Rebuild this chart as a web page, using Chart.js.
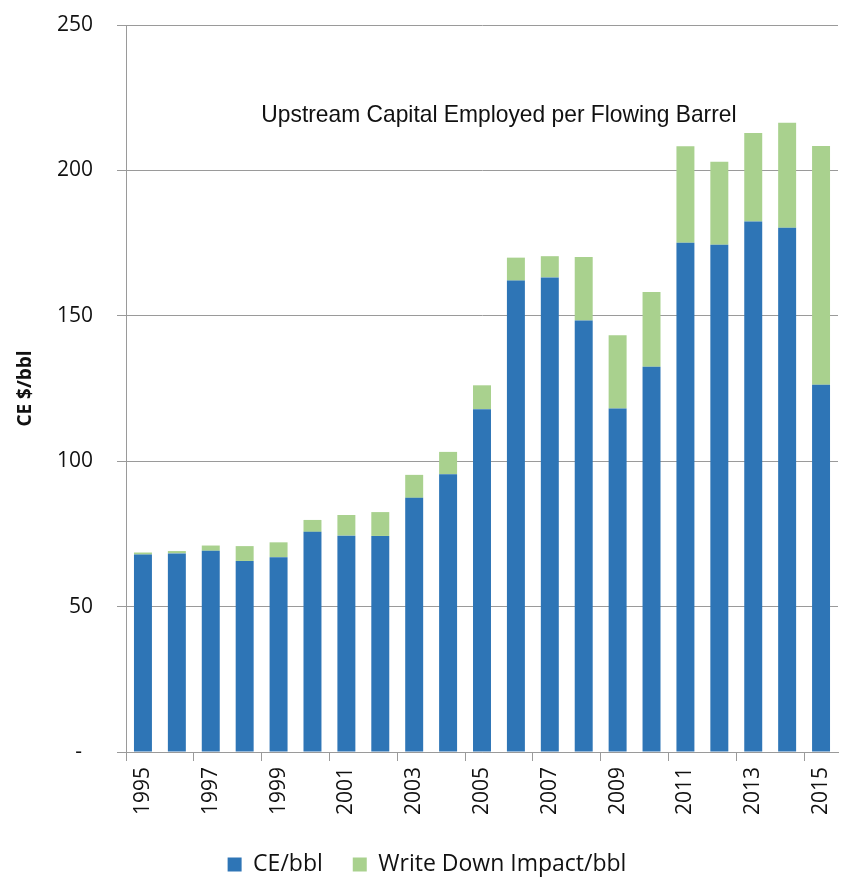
<!DOCTYPE html>
<html>
<head>
<meta charset="utf-8">
<script src="https://cdn.jsdelivr.net/npm/chart.js@4/dist/chart.umd.min.js"></script>
<style>
    html, body { margin: 0; padding: 0; background: #fff; }
    #wrap { width: 841px; height: 877px; }
</style>
</head>
<body>
<div id="wrap"><canvas id="graph1" width="841" height="877"></canvas></div>
<script>
const years = ["1995", "1996", "1997", "1998", "1999", "2000", "2001", "2002", "2003", "2004",
    "2005", "2006", "2007", "2008", "2009", "2010", "2011", "2012", "2013", "2014", "2015"]

// capital employed per barrel
const ceValues = [67.9, 68.3, 69.2, 65.7, 67.0, 75.7, 74.4, 74.3, 87.4, 95.5,
    117.9, 162.1, 163.2, 148.4, 118.1, 132.5, 175.1, 174.4, 182.4, 180.3, 126.3]

// extra from write downs, stacked on top
const writeDownValues = [0.7, 0.8, 1.8, 5.1, 5.1, 4.1, 7.1, 8.2, 7.9, 7.7,
    8.2, 7.9, 7.3, 21.8, 25.2, 25.7, 33.2, 28.6, 30.5, 36.1, 82.1]

const yTicks = [0, 50, 100, 150, 200, 250]

const seriesNames = ["CE/bbl", "Write Down Impact/bbl"]
const chartTitle = "Upstream Capital Employed per Flowing Barrel"

const axisGray = "#9a9a9a"
const labelFont = "'Open Sans', 'Noto Sans', sans-serif"

// title sits inside the plot, squeezed a bit like a narrow face
const titleInside = {
    id: "titleInside",
    afterDraw: (chart) => {
        const ctx = chart.ctx
        const x = chart.scales.x.getPixelForValue(10.5)
        const y = chart.scales.y.getPixelForValue(216.7)
        ctx.save()
        ctx.font = "24px 'Liberation Sans', Arial, sans-serif"
        ctx.fillStyle = "#111"
        ctx.textAlign = "center"
        ctx.textBaseline = "alphabetic"
        ctx.translate(x, y)
        ctx.scale(0.95, 1)
        ctx.fillText(chartTitle, 0, 0)
        ctx.restore()
    },
}

const config1 = {
    type: "bar",
    data: {
        labels: years,
        datasets: [
            {
                label: seriesNames[0],
                data: ceValues,
                backgroundColor: "#2e75b6",
                barPercentage: 0.53,
                categoryPercentage: 1,
            },
            {
                label: seriesNames[1],
                data: writeDownValues,
                backgroundColor: "#a9d18e",
                barPercentage: 0.53,
                categoryPercentage: 1,
            },
        ],
    },
    options: {
        responsive: false,
        animation: false,
        layout: {
            padding: { top: 25, right: 3, left: 16, bottom: -9 },
        },
        plugins: {
            legend: {
                position: "bottom",
                labels: {
                    boxWidth: 14,
                    boxHeight: 14,
                    padding: 30,
                    color: "#111",
                    font: { family: labelFont, size: 23 },
                },
            },
            title: { display: false },
            tooltip: { enabled: false },
        },
        scales: {
            x: {
                stacked: true,
                offset: true,
                afterFit: (scale) => {
                    scale.height = 71
                    scale.paddingLeft = 0
                    scale.paddingRight = 0
                },
                border: { display: true, color: axisGray },
                grid: {
                    offset: true,
                    drawOnChartArea: false,
                    drawTicks: true,
                    tickLength: 9,
                    tickColor: (ctx) => (ctx.index % 2 === 0 ? axisGray : "rgba(0,0,0,0)"),
                },
                ticks: {
                    autoSkip: false,
                    minRotation: 90,
                    maxRotation: 90,
                    padding: 6,
                    color: "#111",
                    font: { family: labelFont, size: 21 },
                    callback: (value, index) => (index % 2 === 0 ? years[index] : ""),
                },
            },
            y: {
                stacked: true,
                min: yTicks[0],
                max: yTicks[yTicks.length - 1],
                afterFit: (scale) => {
                    scale.width = 110
                    scale.paddingTop = 0
                    scale.paddingBottom = 0
                },
                afterBuildTicks: (scale) => {
                    scale.ticks = yTicks.map((v) => ({ value: v }))
                },
                border: { display: true, color: axisGray },
                grid: {
                    color: axisGray,
                    tickLength: 9,
                },
                ticks: {
                    padding: 24,
                    color: "#111",
                    font: { family: labelFont, size: 21 },
                    callback: (value) => (value === 0 ? "-  " : value),
                },
                title: {
                    display: true,
                    text: "CE $/bbl",
                    color: "#111",
                    padding: { top: -2, bottom: 0 },
                    font: { family: labelFont, size: 19, weight: "bold" },
                },
            },
        },
    },
    plugins: [titleInside],
}

const ctx1 = document.getElementById("graph1")
const chart1 = new Chart(ctx1, config1)
</script>
</body>
</html>
